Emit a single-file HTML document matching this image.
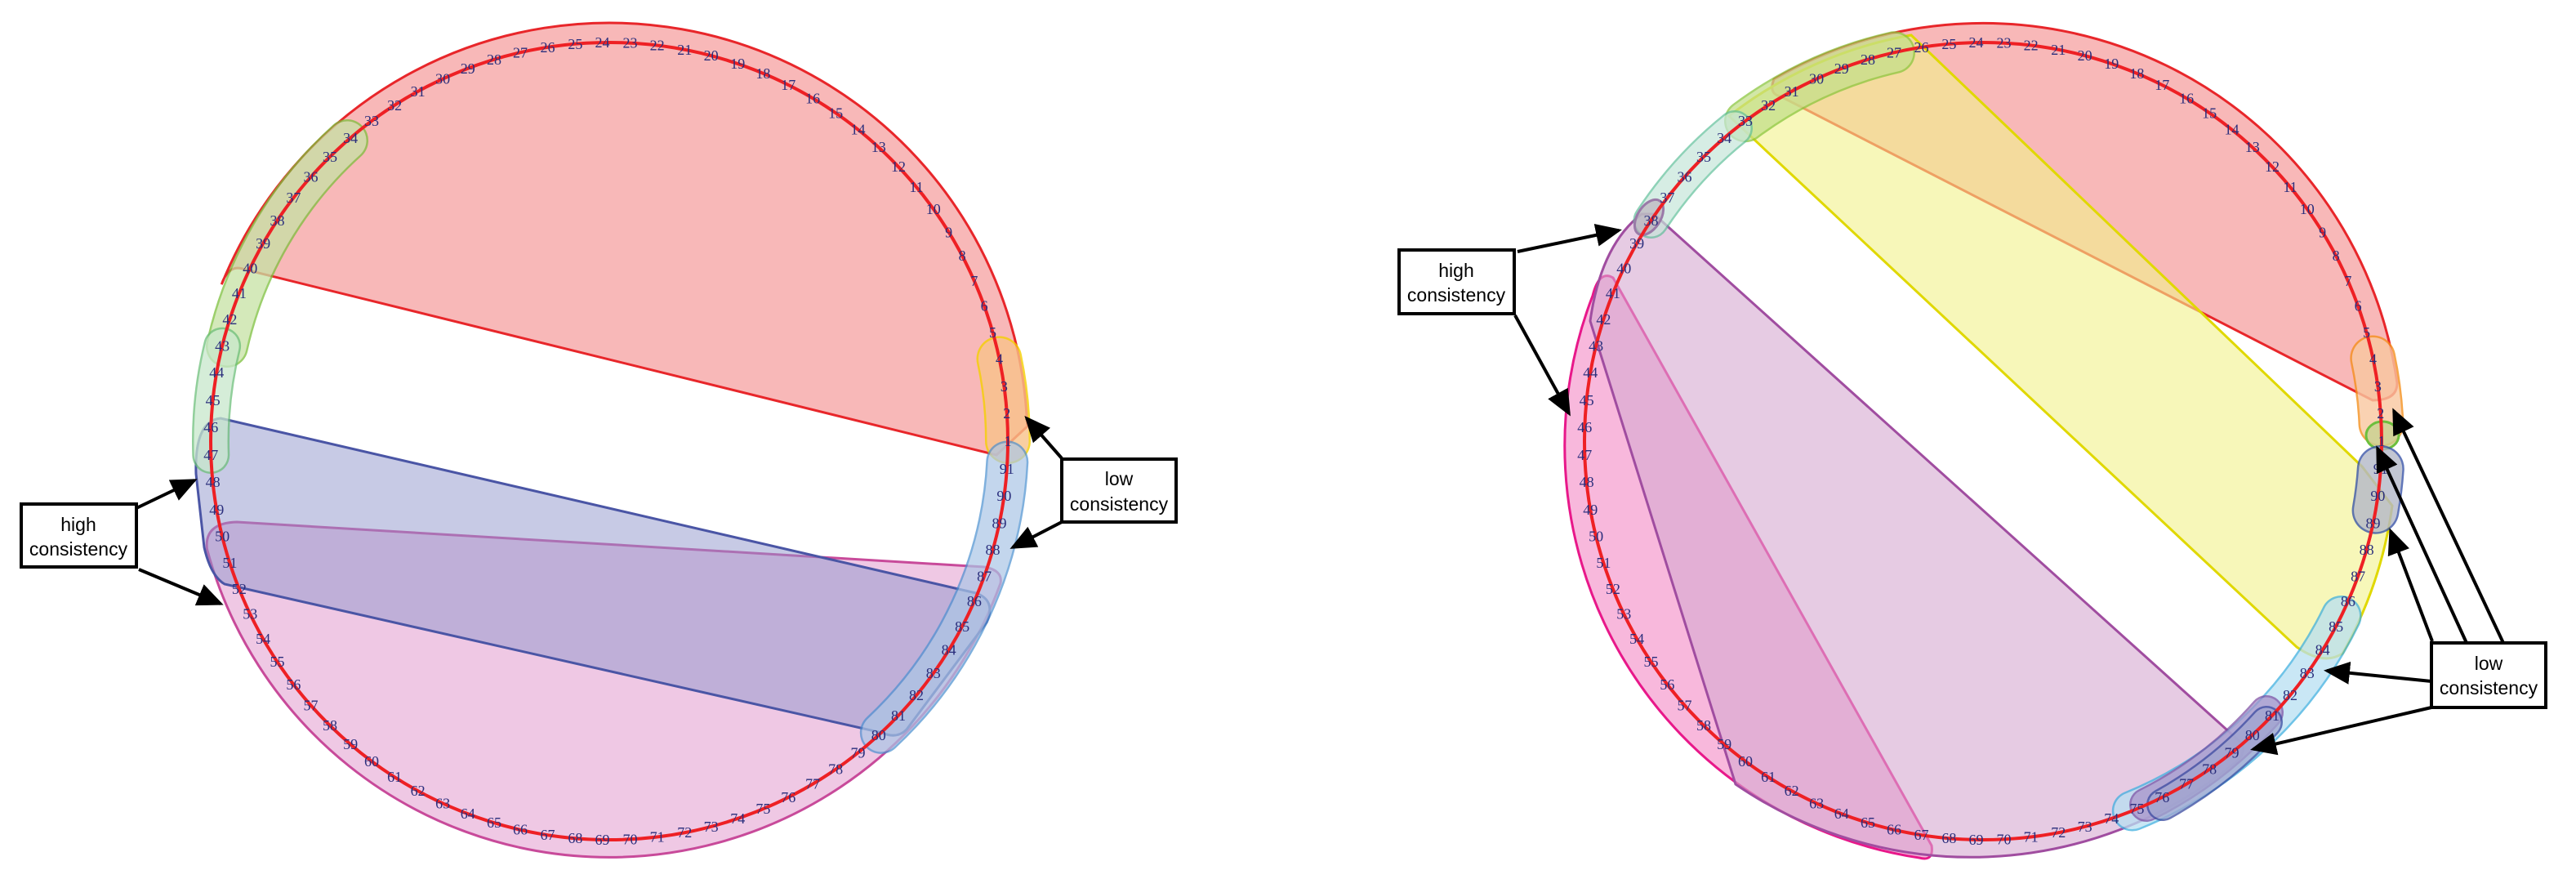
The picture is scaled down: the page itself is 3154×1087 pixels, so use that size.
<!DOCTYPE html>
<html><head><meta charset="utf-8"><style>
html,body{margin:0;padding:0;background:#fff;}
svg{display:block}
.n text{font-family:"Liberation Serif",serif;font-size:18px;fill:#2a2e7c;text-anchor:middle;dominant-baseline:central;}
.bx text{font-family:"Liberation Sans",sans-serif;font-size:23px;fill:#000;text-anchor:middle;}
</style></head><body>
<svg width="3154" height="1087" viewBox="0 0 3154 1087" xmlns="http://www.w3.org/2000/svg">
<defs><marker id="ah" markerWidth="8" markerHeight="8" refX="7" refY="4" orient="auto" markerUnits="strokeWidth"><path d="M0,0.5 L8,4 L0,7.5 Z" fill="#000"/></marker></defs>

<!-- LEFT DIAGRAM -->
<path d="M290,639 L1205,694 Q1228,698 1225,714 A510 510 0 0 1 253.4,672 Q250,640 290,639 Z" fill="#e8b0d8" fill-opacity=".7" stroke="#c84a9a" stroke-width="3"/>
<path d="M1220,557 L1257.7,522 A512 512 0 0 0 271.3,348.2 Q280,322 300,330 Z" fill="#f59a9a" fill-opacity=".7" stroke="#e8262a" stroke-width="3"/>
<path d="M270,512 L1195,726 Q1220,735 1208,762 L1110,893 Q1098,905 1080,897 L275,715 Q258,705 250,670 L240,580 Q238,515 270,512 Z" fill="#8f95cc" fill-opacity=".5" stroke="#4a55a5" stroke-width="3"/>
<g opacity=".75"><path d="M425,172 A480 480 0 0 0 278,424" fill="none" stroke="#7cbf3c" stroke-width="52" stroke-linecap="round"/><path d="M425,172 A480 480 0 0 0 278,424" fill="none" stroke="#c6e2a4" stroke-width="47" stroke-linecap="round"/></g>
<g opacity=".75"><path d="M272.1,423.6 A488 488 0 0 0 258.3,557" fill="none" stroke="#6dbf7a" stroke-width="46" stroke-linecap="round"/><path d="M272.1,423.6 A488 488 0 0 0 258.3,557" fill="none" stroke="#c8e8cc" stroke-width="41" stroke-linecap="round"/></g>
<g opacity=".8"><path d="M1234,540 A488 488 0 0 0 1223.5,439.4" fill="none" stroke="#f5d000" stroke-width="56" stroke-linecap="round"/><path d="M1234,540 A488 488 0 0 0 1223.5,439.4" fill="none" stroke="#f8c38a" stroke-width="51" stroke-linecap="round"/></g>
<g opacity=".7"><path d="M1078.8,896.9 A488 488 0 0 0 1233.3,565.5" fill="none" stroke="#4a8fd0" stroke-width="52" stroke-linecap="round"/><path d="M1078.8,896.9 A488 488 0 0 0 1233.3,565.5" fill="none" stroke="#aac6e6" stroke-width="47" stroke-linecap="round"/></g>
<circle cx="746" cy="540" r="488" fill="none" stroke="#ee2024" stroke-width="4"/>

<!-- RIGHT DIAGRAM -->
<path d="M1975,340 L2365,1035 Q2368,1055 2350,1050 A510 510 0 0 1 1950,362 Q1958,330 1975,340 Z" fill="#f6a0d0" fill-opacity=".75" stroke="#e8188a" stroke-width="3"/>
<path d="M2025,262 L2745,910 Q2750,925 2735,935 A510 510 0 0 1 2125,960 L1947,393 Q1960,300 2010,262 Z" fill="#d6a8d0" fill-opacity=".6" stroke="#a04da0" stroke-width="3"/>
<path d="M2905,490 Q2935,490 2935,469 A512 512 0 0 0 2172,97 Q2165,115 2180,118 Z" fill="#f59a9a" fill-opacity=".7" stroke="#e8262a" stroke-width="3"/>
<path d="M2117,142 A505 505 0 0 1 2340,43 L2892,571 L2929,619 A508 508 0 0 1 2868,800 Q2845,815 2812,792 Z" fill="#f2f28a" fill-opacity=".6" stroke="#e0d800" stroke-width="3"/>
<g opacity=".75"><path d="M2319,64.3 A488 488 0 0 0 2137,148.2" fill="none" stroke="#8cc63f" stroke-width="52" stroke-linecap="round"/><path d="M2319,64.3 A488 488 0 0 0 2137,148.2" fill="none" stroke="#c4e08a" stroke-width="47" stroke-linecap="round"/></g>
<g opacity=".7"><path d="M2124,157 A488 488 0 0 0 2021.5,270" fill="none" stroke="#5fbf9a" stroke-width="44" stroke-linecap="round"/><path d="M2124,157 A488 488 0 0 0 2021.5,270" fill="none" stroke="#c6e6da" stroke-width="39" stroke-linecap="round"/></g>
<ellipse cx="2019" cy="266" rx="14" ry="24" transform="rotate(33 2019 266)" fill="#b8a8b8" fill-opacity=".6" stroke="#9a7aa8" stroke-width="3"/>
<g opacity=".75"><path d="M2610.8,992.5 A488 488 0 0 0 2866.6,754" fill="none" stroke="#40b0e0" stroke-width="50" stroke-linecap="round"/><path d="M2610.8,992.5 A488 488 0 0 0 2866.6,754" fill="none" stroke="#b8e0f2" stroke-width="45" stroke-linecap="round"/></g>
<g opacity=".7"><path d="M2628,985 A480 480 0 0 0 2775,872" fill="none" stroke="#7a4aa0" stroke-width="42" stroke-linecap="round"/><path d="M2628,985 A480 480 0 0 0 2775,872" fill="none" stroke="#a890c8" stroke-width="37" stroke-linecap="round"/></g>
<g opacity=".75"><path d="M2648,985 A492 492 0 0 0 2775,884" fill="none" stroke="#3a4aa0" stroke-width="40" stroke-linecap="round"/><path d="M2648,985 A492 492 0 0 0 2775,884" fill="none" stroke="#a0a6d0" stroke-width="35" stroke-linecap="round"/></g>
<g opacity=".8"><path d="M2915.5,518.7 A488 488 0 0 0 2905.3,438.5" fill="none" stroke="#f5901e" stroke-width="56" stroke-linecap="round"/><path d="M2915.5,518.7 A488 488 0 0 0 2905.3,438.5" fill="none" stroke="#f9c8a0" stroke-width="51" stroke-linecap="round"/></g>
<ellipse cx="2917" cy="533" rx="20" ry="17" fill="#c8d290" fill-opacity=".8" stroke="#6cbf3c" stroke-width="3"/>
<g opacity=".8"><path d="M2908.6,624.7 A488 488 0 0 0 2914.8,574" fill="none" stroke="#3a55a8" stroke-width="58" stroke-linecap="round"/><path d="M2908.6,624.7 A488 488 0 0 0 2914.8,574" fill="none" stroke="#b4b8c8" stroke-width="53" stroke-linecap="round"/></g>
<circle cx="2428" cy="540" r="488" fill="none" stroke="#ee2024" stroke-width="4"/>

<!-- LABELS LEFT -->
<g class="n" transform="translate(746,540)">
<text transform="rotate(0) translate(488) rotate(0)">1</text>
<text transform="rotate(-4) translate(488) rotate(4)">2</text>
<text transform="rotate(-7.9) translate(488) rotate(7.9)">3</text>
<text transform="rotate(-11.9) translate(488) rotate(11.9)">4</text>
<text transform="rotate(-15.8) translate(488) rotate(15.8)">5</text>
<text transform="rotate(-19.8) translate(488) rotate(19.8)">6</text>
<text transform="rotate(-23.7) translate(488) rotate(23.7)">7</text>
<text transform="rotate(-27.7) translate(488) rotate(27.7)">8</text>
<text transform="rotate(-31.6) translate(488) rotate(31.6)">9</text>
<text transform="rotate(-35.6) translate(488) rotate(35.6)">10</text>
<text transform="rotate(-39.6) translate(488) rotate(39.6)">11</text>
<text transform="rotate(-43.5) translate(488) rotate(43.5)">12</text>
<text transform="rotate(-47.5) translate(488) rotate(47.5)">13</text>
<text transform="rotate(-51.4) translate(488) rotate(51.4)">14</text>
<text transform="rotate(-55.4) translate(488) rotate(55.4)">15</text>
<text transform="rotate(-59.3) translate(488) rotate(59.3)">16</text>
<text transform="rotate(-63.3) translate(488) rotate(63.3)">17</text>
<text transform="rotate(-67.3) translate(488) rotate(67.3)">18</text>
<text transform="rotate(-71.2) translate(488) rotate(71.2)">19</text>
<text transform="rotate(-75.2) translate(488) rotate(75.2)">20</text>
<text transform="rotate(-79.1) translate(488) rotate(79.1)">21</text>
<text transform="rotate(-83.1) translate(488) rotate(83.1)">22</text>
<text transform="rotate(-87) translate(488) rotate(87)">23</text>
<text transform="rotate(-91) translate(488) rotate(91)">24</text>
<text transform="rotate(-94.9) translate(488) rotate(94.9)">25</text>
<text transform="rotate(-98.9) translate(488) rotate(98.9)">26</text>
<text transform="rotate(-102.9) translate(488) rotate(102.9)">27</text>
<text transform="rotate(-106.8) translate(488) rotate(106.8)">28</text>
<text transform="rotate(-110.8) translate(488) rotate(110.8)">29</text>
<text transform="rotate(-114.7) translate(488) rotate(114.7)">30</text>
<text transform="rotate(-118.7) translate(488) rotate(118.7)">31</text>
<text transform="rotate(-122.6) translate(488) rotate(122.6)">32</text>
<text transform="rotate(-126.6) translate(488) rotate(126.6)">33</text>
<text transform="rotate(-130.5) translate(488) rotate(130.5)">34</text>
<text transform="rotate(-134.5) translate(488) rotate(134.5)">35</text>
<text transform="rotate(-138.5) translate(488) rotate(138.5)">36</text>
<text transform="rotate(-142.4) translate(488) rotate(142.4)">37</text>
<text transform="rotate(-146.4) translate(488) rotate(146.4)">38</text>
<text transform="rotate(-150.3) translate(488) rotate(150.3)">39</text>
<text transform="rotate(-154.3) translate(488) rotate(154.3)">40</text>
<text transform="rotate(-158.2) translate(488) rotate(158.2)">41</text>
<text transform="rotate(-162.2) translate(488) rotate(162.2)">42</text>
<text transform="rotate(-166.2) translate(488) rotate(166.2)">43</text>
<text transform="rotate(-170.1) translate(488) rotate(170.1)">44</text>
<text transform="rotate(-174.1) translate(488) rotate(174.1)">45</text>
<text transform="rotate(-178) translate(488) rotate(178)">46</text>
<text transform="rotate(-182) translate(488) rotate(182)">47</text>
<text transform="rotate(-185.9) translate(488) rotate(185.9)">48</text>
<text transform="rotate(-189.9) translate(488) rotate(189.9)">49</text>
<text transform="rotate(-193.8) translate(488) rotate(193.8)">50</text>
<text transform="rotate(-197.8) translate(488) rotate(197.8)">51</text>
<text transform="rotate(-201.8) translate(488) rotate(201.8)">52</text>
<text transform="rotate(-205.7) translate(488) rotate(205.7)">53</text>
<text transform="rotate(-209.7) translate(488) rotate(209.7)">54</text>
<text transform="rotate(-213.6) translate(488) rotate(213.6)">55</text>
<text transform="rotate(-217.6) translate(488) rotate(217.6)">56</text>
<text transform="rotate(-221.5) translate(488) rotate(221.5)">57</text>
<text transform="rotate(-225.5) translate(488) rotate(225.5)">58</text>
<text transform="rotate(-229.5) translate(488) rotate(229.5)">59</text>
<text transform="rotate(-233.4) translate(488) rotate(233.4)">60</text>
<text transform="rotate(-237.4) translate(488) rotate(237.4)">61</text>
<text transform="rotate(-241.3) translate(488) rotate(241.3)">62</text>
<text transform="rotate(-245.3) translate(488) rotate(245.3)">63</text>
<text transform="rotate(-249.2) translate(488) rotate(249.2)">64</text>
<text transform="rotate(-253.2) translate(488) rotate(253.2)">65</text>
<text transform="rotate(-257.1) translate(488) rotate(257.1)">66</text>
<text transform="rotate(-261.1) translate(488) rotate(261.1)">67</text>
<text transform="rotate(-265.1) translate(488) rotate(265.1)">68</text>
<text transform="rotate(-269) translate(488) rotate(269)">69</text>
<text transform="rotate(-273) translate(488) rotate(273)">70</text>
<text transform="rotate(-276.9) translate(488) rotate(276.9)">71</text>
<text transform="rotate(-280.9) translate(488) rotate(280.9)">72</text>
<text transform="rotate(-284.8) translate(488) rotate(284.8)">73</text>
<text transform="rotate(-288.8) translate(488) rotate(288.8)">74</text>
<text transform="rotate(-292.7) translate(488) rotate(292.7)">75</text>
<text transform="rotate(-296.7) translate(488) rotate(296.7)">76</text>
<text transform="rotate(-300.7) translate(488) rotate(300.7)">77</text>
<text transform="rotate(-304.6) translate(488) rotate(304.6)">78</text>
<text transform="rotate(-308.6) translate(488) rotate(308.6)">79</text>
<text transform="rotate(-312.5) translate(488) rotate(312.5)">80</text>
<text transform="rotate(-316.5) translate(488) rotate(316.5)">81</text>
<text transform="rotate(-320.4) translate(488) rotate(320.4)">82</text>
<text transform="rotate(-324.4) translate(488) rotate(324.4)">83</text>
<text transform="rotate(-328.4) translate(488) rotate(328.4)">84</text>
<text transform="rotate(-332.3) translate(488) rotate(332.3)">85</text>
<text transform="rotate(-336.3) translate(488) rotate(336.3)">86</text>
<text transform="rotate(-340.2) translate(488) rotate(340.2)">87</text>
<text transform="rotate(-344.2) translate(488) rotate(344.2)">88</text>
<text transform="rotate(-348.1) translate(488) rotate(348.1)">89</text>
<text transform="rotate(-352.1) translate(488) rotate(352.1)">90</text>
<text transform="rotate(-356) translate(488) rotate(356)">91</text>
</g>

<!-- LABELS RIGHT -->
<g class="n" transform="translate(2428,540)">
<text transform="rotate(0) translate(488) rotate(0)">1</text>
<text transform="rotate(-4) translate(488) rotate(4)">2</text>
<text transform="rotate(-7.9) translate(488) rotate(7.9)">3</text>
<text transform="rotate(-11.9) translate(488) rotate(11.9)">4</text>
<text transform="rotate(-15.8) translate(488) rotate(15.8)">5</text>
<text transform="rotate(-19.8) translate(488) rotate(19.8)">6</text>
<text transform="rotate(-23.7) translate(488) rotate(23.7)">7</text>
<text transform="rotate(-27.7) translate(488) rotate(27.7)">8</text>
<text transform="rotate(-31.6) translate(488) rotate(31.6)">9</text>
<text transform="rotate(-35.6) translate(488) rotate(35.6)">10</text>
<text transform="rotate(-39.6) translate(488) rotate(39.6)">11</text>
<text transform="rotate(-43.5) translate(488) rotate(43.5)">12</text>
<text transform="rotate(-47.5) translate(488) rotate(47.5)">13</text>
<text transform="rotate(-51.4) translate(488) rotate(51.4)">14</text>
<text transform="rotate(-55.4) translate(488) rotate(55.4)">15</text>
<text transform="rotate(-59.3) translate(488) rotate(59.3)">16</text>
<text transform="rotate(-63.3) translate(488) rotate(63.3)">17</text>
<text transform="rotate(-67.3) translate(488) rotate(67.3)">18</text>
<text transform="rotate(-71.2) translate(488) rotate(71.2)">19</text>
<text transform="rotate(-75.2) translate(488) rotate(75.2)">20</text>
<text transform="rotate(-79.1) translate(488) rotate(79.1)">21</text>
<text transform="rotate(-83.1) translate(488) rotate(83.1)">22</text>
<text transform="rotate(-87) translate(488) rotate(87)">23</text>
<text transform="rotate(-91) translate(488) rotate(91)">24</text>
<text transform="rotate(-94.9) translate(488) rotate(94.9)">25</text>
<text transform="rotate(-98.9) translate(488) rotate(98.9)">26</text>
<text transform="rotate(-102.9) translate(488) rotate(102.9)">27</text>
<text transform="rotate(-106.8) translate(488) rotate(106.8)">28</text>
<text transform="rotate(-110.8) translate(488) rotate(110.8)">29</text>
<text transform="rotate(-114.7) translate(488) rotate(114.7)">30</text>
<text transform="rotate(-118.7) translate(488) rotate(118.7)">31</text>
<text transform="rotate(-122.6) translate(488) rotate(122.6)">32</text>
<text transform="rotate(-126.6) translate(488) rotate(126.6)">33</text>
<text transform="rotate(-130.5) translate(488) rotate(130.5)">34</text>
<text transform="rotate(-134.5) translate(488) rotate(134.5)">35</text>
<text transform="rotate(-138.5) translate(488) rotate(138.5)">36</text>
<text transform="rotate(-142.4) translate(488) rotate(142.4)">37</text>
<text transform="rotate(-146.4) translate(488) rotate(146.4)">38</text>
<text transform="rotate(-150.3) translate(488) rotate(150.3)">39</text>
<text transform="rotate(-154.3) translate(488) rotate(154.3)">40</text>
<text transform="rotate(-158.2) translate(488) rotate(158.2)">41</text>
<text transform="rotate(-162.2) translate(488) rotate(162.2)">42</text>
<text transform="rotate(-166.2) translate(488) rotate(166.2)">43</text>
<text transform="rotate(-170.1) translate(488) rotate(170.1)">44</text>
<text transform="rotate(-174.1) translate(488) rotate(174.1)">45</text>
<text transform="rotate(-178) translate(488) rotate(178)">46</text>
<text transform="rotate(-182) translate(488) rotate(182)">47</text>
<text transform="rotate(-185.9) translate(488) rotate(185.9)">48</text>
<text transform="rotate(-189.9) translate(488) rotate(189.9)">49</text>
<text transform="rotate(-193.8) translate(488) rotate(193.8)">50</text>
<text transform="rotate(-197.8) translate(488) rotate(197.8)">51</text>
<text transform="rotate(-201.8) translate(488) rotate(201.8)">52</text>
<text transform="rotate(-205.7) translate(488) rotate(205.7)">53</text>
<text transform="rotate(-209.7) translate(488) rotate(209.7)">54</text>
<text transform="rotate(-213.6) translate(488) rotate(213.6)">55</text>
<text transform="rotate(-217.6) translate(488) rotate(217.6)">56</text>
<text transform="rotate(-221.5) translate(488) rotate(221.5)">57</text>
<text transform="rotate(-225.5) translate(488) rotate(225.5)">58</text>
<text transform="rotate(-229.5) translate(488) rotate(229.5)">59</text>
<text transform="rotate(-233.4) translate(488) rotate(233.4)">60</text>
<text transform="rotate(-237.4) translate(488) rotate(237.4)">61</text>
<text transform="rotate(-241.3) translate(488) rotate(241.3)">62</text>
<text transform="rotate(-245.3) translate(488) rotate(245.3)">63</text>
<text transform="rotate(-249.2) translate(488) rotate(249.2)">64</text>
<text transform="rotate(-253.2) translate(488) rotate(253.2)">65</text>
<text transform="rotate(-257.1) translate(488) rotate(257.1)">66</text>
<text transform="rotate(-261.1) translate(488) rotate(261.1)">67</text>
<text transform="rotate(-265.1) translate(488) rotate(265.1)">68</text>
<text transform="rotate(-269) translate(488) rotate(269)">69</text>
<text transform="rotate(-273) translate(488) rotate(273)">70</text>
<text transform="rotate(-276.9) translate(488) rotate(276.9)">71</text>
<text transform="rotate(-280.9) translate(488) rotate(280.9)">72</text>
<text transform="rotate(-284.8) translate(488) rotate(284.8)">73</text>
<text transform="rotate(-288.8) translate(488) rotate(288.8)">74</text>
<text transform="rotate(-292.7) translate(488) rotate(292.7)">75</text>
<text transform="rotate(-296.7) translate(488) rotate(296.7)">76</text>
<text transform="rotate(-300.7) translate(488) rotate(300.7)">77</text>
<text transform="rotate(-304.6) translate(488) rotate(304.6)">78</text>
<text transform="rotate(-308.6) translate(488) rotate(308.6)">79</text>
<text transform="rotate(-312.5) translate(488) rotate(312.5)">80</text>
<text transform="rotate(-316.5) translate(488) rotate(316.5)">81</text>
<text transform="rotate(-320.4) translate(488) rotate(320.4)">82</text>
<text transform="rotate(-324.4) translate(488) rotate(324.4)">83</text>
<text transform="rotate(-328.4) translate(488) rotate(328.4)">84</text>
<text transform="rotate(-332.3) translate(488) rotate(332.3)">85</text>
<text transform="rotate(-336.3) translate(488) rotate(336.3)">86</text>
<text transform="rotate(-340.2) translate(488) rotate(340.2)">87</text>
<text transform="rotate(-344.2) translate(488) rotate(344.2)">88</text>
<text transform="rotate(-348.1) translate(488) rotate(348.1)">89</text>
<text transform="rotate(-352.1) translate(488) rotate(352.1)">90</text>
<text transform="rotate(-356) translate(488) rotate(356)">91</text>
</g>

<!-- ARROWS & BOXES -->
<g stroke="#000" stroke-width="4" fill="none" marker-end="url(#ah)">
<line x1="167" y1="622" x2="238" y2="588"/>
<line x1="170" y1="697" x2="270" y2="739"/>
<line x1="1300" y1="561" x2="1257" y2="512"/>
<line x1="1300" y1="639" x2="1240" y2="670"/>
<line x1="1858" y1="308" x2="1982" y2="282"/>
<line x1="1855" y1="386" x2="1921" y2="506"/>
<line x1="3065" y1="787" x2="2931" y2="503"/>
<line x1="3020" y1="787" x2="2911" y2="549"/>
<line x1="2978" y1="785" x2="2927" y2="650"/>
<line x1="2977" y1="834" x2="2849" y2="821"/>
<line x1="2977" y1="866" x2="2759" y2="917"/>
</g>
<g class="bx">
<rect x="26" y="617" width="141" height="77" fill="#fff" stroke="#000" stroke-width="4"/>
<text x="96" y="650">high</text><text x="96" y="680">consistency</text>
<rect x="1300" y="562" width="140" height="77" fill="#fff" stroke="#000" stroke-width="4"/>
<text x="1370" y="594">low</text><text x="1370" y="625">consistency</text>
<rect x="1713" y="306" width="141" height="78" fill="#fff" stroke="#000" stroke-width="4"/>
<text x="1783" y="339">high</text><text x="1783" y="369">consistency</text>
<rect x="2977" y="787" width="140" height="79" fill="#fff" stroke="#000" stroke-width="4"/>
<text x="3047" y="820">low</text><text x="3047" y="850">consistency</text>
</g>
</svg>
</body></html>
